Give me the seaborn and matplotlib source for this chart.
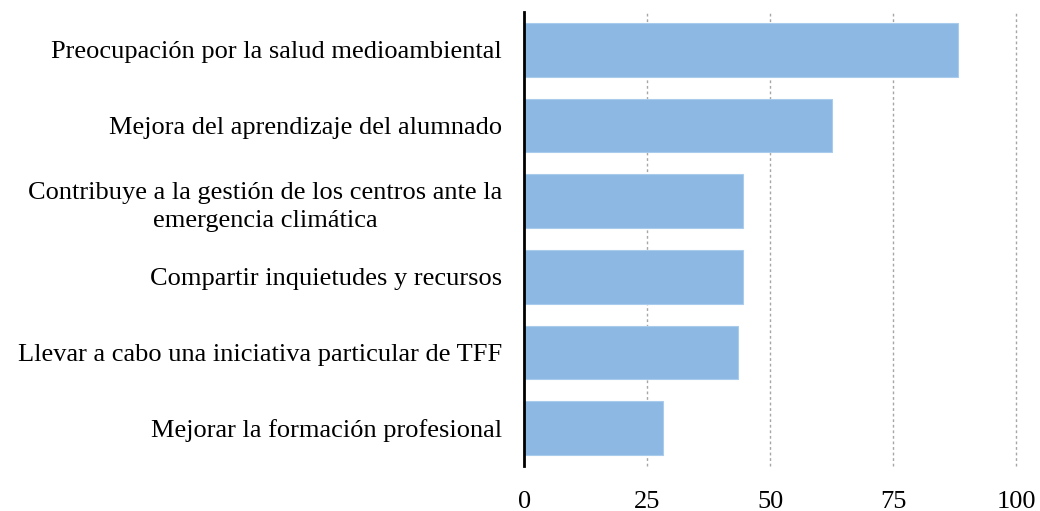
import pandas as pd
import seaborn as sns
import matplotlib.pyplot as plt

# Datos (porcentaje)
motivos = [
    'Preocupación por la salud medioambiental',
    'Mejora del aprendizaje del alumnado',
    'Contribuye a la gestión de los centros ante la\nemergencia climática',
    'Compartir inquietudes y recursos',
    'Llevar a cabo una iniciativa particular de TFF',
    'Mejorar la formación profesional',
]
valores = [88.2, 62.6, 44.5, 44.5, 43.5, 28.3]
ticks_x = [0, 25, 50, 75, 100]

df = pd.DataFrame({'motivo': motivos, 'valor': valores})

sns.set_style('white')
plt.rcParams['font.family'] = ['Liberation Serif', 'DejaVu Serif']

fig = plt.figure(figsize=(10.4, 5.11), dpi=100)
ax = fig.add_axes([0.504, 0.088, 0.473, 0.8885])

sns.barplot(data=df, x='valor', y='motivo', color='#8DB8E3', saturation=1,
            width=0.71, edgecolor='#A9CBEC', linewidth=0.8, ax=ax, zorder=2)

ax.set_xlim(0, 100)
ax.set_ylim(5.5, -0.5)
ax.set_xticks(ticks_x)
ax.set_xticklabels([str(t) for t in ticks_x])
ax.set_xlabel('')
ax.set_ylabel('')

# Rejilla vertical punteada detrás de las barras
ax.grid(False)
for t in ticks_x[1:]:
    ax.axvline(t, color='#A6A6A6', linestyle=(0, (2, 2)), linewidth=1,
               zorder=1, clip_on=False)

for s in ['top', 'right', 'bottom']:
    ax.spines[s].set_visible(False)
ax.spines['left'].set_color('black')
ax.spines['left'].set_linewidth(2)
ax.spines['left'].set_zorder(3)

ax.tick_params(axis='y', length=0, pad=16, labelsize=19, labelcolor='black')
ax.tick_params(axis='x', length=0, pad=18, labelsize=19, labelcolor='black')
for lbl in ax.get_yticklabels():
    lbl.set_multialignment('center')
    lbl.set_linespacing(1.38)

fig.savefig('out.png', dpi=100)
